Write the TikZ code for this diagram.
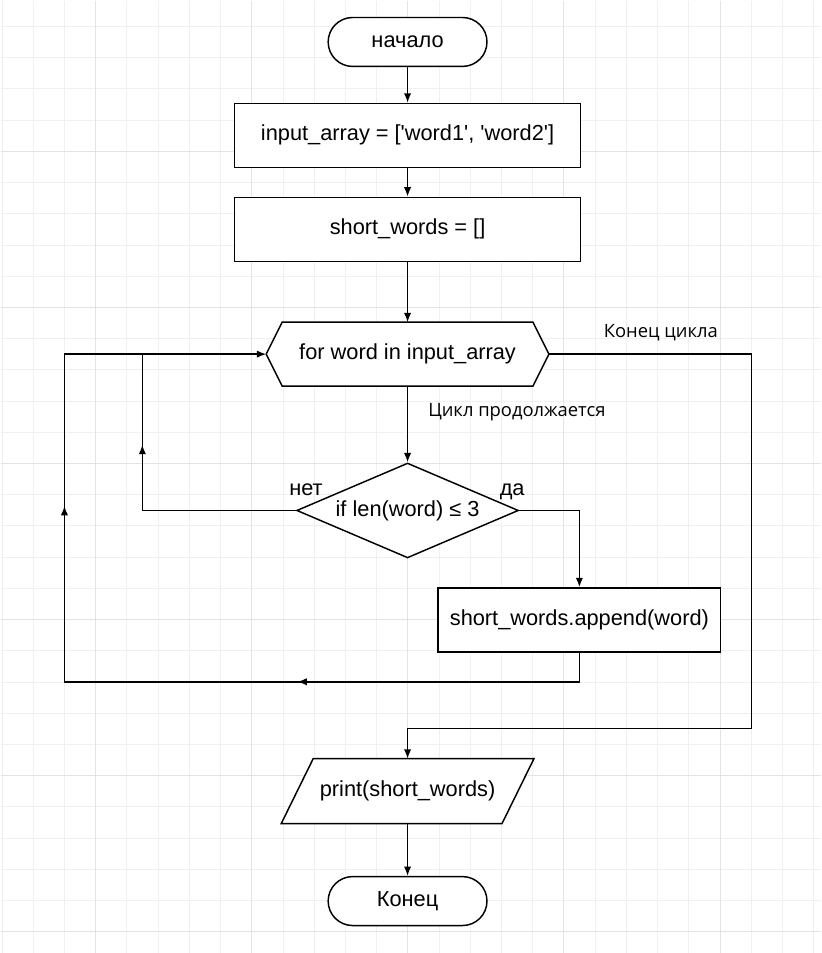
\documentclass[tikz,border=0pt]{standalone}
\usepackage{fontspec}
\setmainfont{Liberation Sans}
\newfontfamily\notefont{Open Sans}
\usetikzlibrary{arrows,arrows.meta,positioning,shapes.geometric,backgrounds,decorations.markings}
\newcommand\boxfont{\fontsize{16.35pt}{19pt}\selectfont}

\begin{document}
\begin{tikzpicture}[x=0.75pt, y=-0.75pt, >={Latex[length=7pt,width=5.5pt]},
        every path/.style = {line width=1.1pt},
        gridminor/.style = {draw=black!6, line width=0.75pt},
        gridmajor/.style = {draw=black!11, line width=0.75pt},
        base/.style = {draw, fill=white, line width=1.1pt, font=\boxfont, inner sep=0pt},
        term/.style = {base, rectangle, rounded corners=18.375pt, minimum width=119.25pt, minimum height=36.75pt},
        block/.style = {base, rectangle, minimum width=259.5pt, minimum height=48pt},
        frame/.style = {base, draw=none, fill=none, outer sep=0pt},
        hexa/.style = {frame, minimum width=212.25pt, minimum height=48pt},
        io/.style = {frame, minimum width=189.75pt, minimum height=48.75pt},
        cond/.style = {base, diamond, aspect=2.34, minimum width=166.5pt, minimum height=71.25pt},
        note/.style = {font=\notefont\fontsize{13.8pt}{16pt}\selectfont, inner sep=0pt},
        answer/.style = {font=\boxfont, inner sep=0pt},
        tick/.style = {postaction={decorate, decoration={markings, mark=at position #1 with {\arrow{>}}}}},
        node distance=2cm]

        % grid
        \begin{scope}[on background layer]
        \foreach \gx in {0,...,26} \draw[gridminor] ({1.55+31.25*\gx},0) -- ++(0,953);
        \foreach \gy in {0,...,29} \draw[gridminor] (0,{26+31.25*\gy}) -- ++(821,0);
        \foreach \gx in {0,...,4} \draw[gridmajor] ({95.3+156.25*\gx},0) -- ++(0,953);
        \foreach \gy in {0,...,5} \draw[gridmajor] (0,{151+156.25*\gy}) -- ++(821,0);
        \end{scope}
        \useasboundingbox (0,0) rectangle (821,953);

        \node[term] (start) at (407.5,41.5) {начало};
        \node[block] (input) [below of=start, node distance=70.125pt] {input\_array = [\textquotesingle word1\textquotesingle, \textquotesingle word2\textquotesingle]};
        \node[block] (short) [below of=input, node distance=70.5pt] {short\_words = []};
        \node[hexa] (loop) [below of=short, node distance=93.75pt] {for word in input\_array};
        \node[cond] (check) [below of=loop, node distance=117.375pt] {if len(word) ≤ 3};
        \node[block, minimum width=212.25pt] (append) at (579.5,620) {short\_words.append(word)};
        \node[io] (print) [below of=check, node distance=210.75pt] {print(short\_words)};
        \node[term] (stop) [below of=print, node distance=82.5pt] {Конец};

        % hexagon and parallelogram outlines
        \begin{scope}[on background layer]
        \filldraw[fill=white] (loop.west) -- ([xshift=12pt]loop.north west) -- ([xshift=-12pt]loop.north east)
            -- (loop.east) -- ([xshift=-12pt]loop.south east) -- ([xshift=12pt]loop.south west) -- cycle;
        \filldraw[fill=white] (print.south west) -- ([xshift=24pt]print.north west) -- (print.north east)
            -- ([xshift=-24pt]print.south east) -- cycle;
        \end{scope}

        \coordinate (join) at (142,354);
        \coordinate (back) at (64,682);
        \coordinate (exit) at (752,729);

        \draw[->] (start) -- (input);
        \draw[->] (input) -- (short);
        \draw[->] (short) -- (loop);
        \draw[->] (loop) -- node[note, pos=0.4, anchor=base west, xshift=15pt] (goon) {Цикл продолжается} (check);
        \draw[tick=164.6pt] (check.west) -| node[answer, pos=0, anchor=base, xshift=7.5pt, yshift=11.6pt] (no) {нет} (join);
        \draw[->] (check.east) -| node[answer, pos=0, anchor=base, xshift=-5.25pt, yshift=11.6pt] (yes) {да} (append);
        \draw[->, tick=233.6pt, tick=540.6pt] (append) |- (back) |- (loop);
        \draw[->] (loop.east) -| node[note, pos=0.276, anchor=base, yshift=12.4pt] (done) {Конец цикла} (exit) -| (print);
        \draw[->] (print) -- (stop);
\end{tikzpicture}
\end{document}
